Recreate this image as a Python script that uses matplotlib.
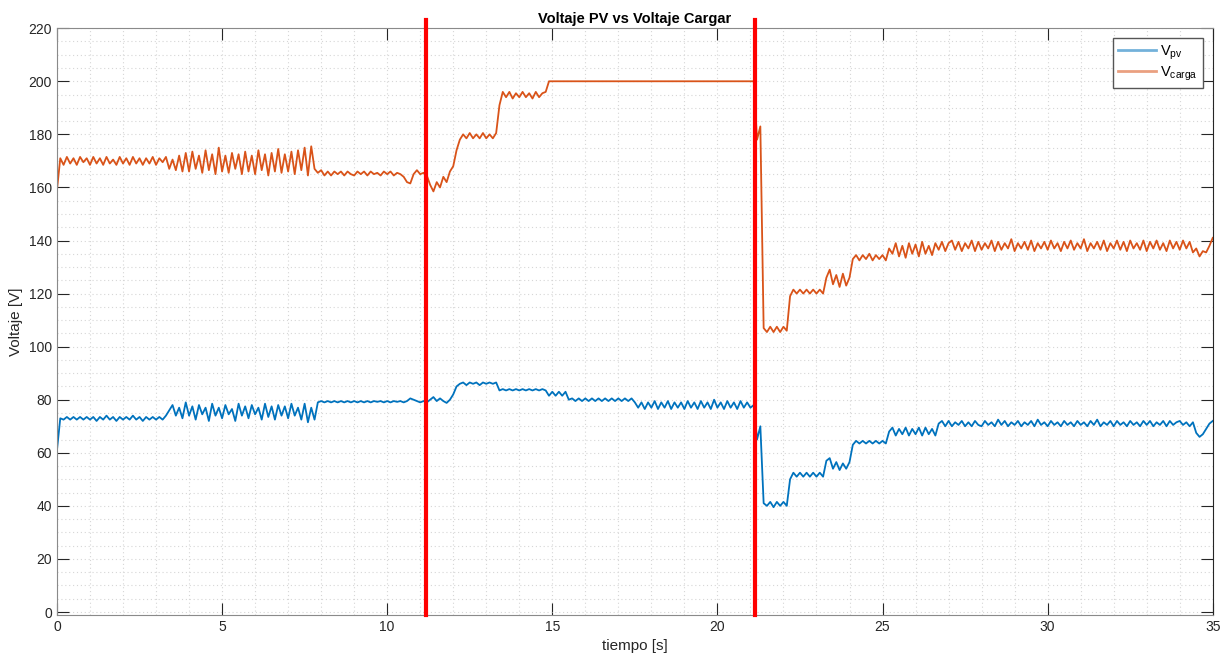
import numpy as np
import matplotlib.pyplot as plt
from matplotlib.ticker import MultipleLocator

t = np.round(np.arange(0, 35.05, 0.1), 1)

v_pv = [
    61, 73, 72.5, 73.5, 72.5, 73.5, 72.5, 73.5, 72.5, 73.5,
    72.5, 73.5, 72, 73.5, 72.5, 74, 72.5, 73.5, 72, 73.5,
    72.5, 73.5, 72.5, 74, 72.5, 73.5, 72, 73.5, 72.5, 73.5,
    72.5, 73.5, 72.5, 74, 76, 78, 74, 77, 73, 79,
    74, 77.5, 72.5, 78, 74.5, 77, 72, 78.5, 74, 77,
    73, 78, 74.5, 76.5, 72, 78.5, 74, 77.5, 73, 78,
    74.5, 77, 72.5, 78.5, 73.5, 77.5, 72.5, 78, 74, 77.5,
    73, 78.5, 74, 77, 72.5, 78.5, 71.5, 77, 72.5, 79,
    79.5, 79, 79.5, 79, 79.5, 79, 79.5, 79, 79.5, 79,
    79.5, 79, 79.5, 79, 79.5, 79, 79.5, 79.2, 79.5, 79,
    79.5, 79, 79.5, 79.2, 79.5, 79, 79.5, 80.5, 80, 79.5,
    79, 79.5, 79, 80, 81, 79.5, 80.5, 79.5, 78.8, 80,
    82, 85, 86, 86.5, 85.5, 86.5, 86, 86.5, 85.5, 86.5,
    86, 86.5, 86, 86.5, 83.5, 84, 83.5, 84, 83.5, 84,
    83.5, 84, 83.5, 84, 83.5, 84, 83.5, 84, 83.5, 81.5,
    83, 81.5, 83, 81.5, 83, 80, 80.5, 79.5, 80.5, 79.5,
    80.5, 79.5, 80.5, 79.5, 80.5, 79.5, 80.5, 79.5, 80.5, 79.5,
    80.5, 79.5, 80.5, 79.5, 80.5, 79, 77, 79, 76.5, 79,
    77, 79.5, 76.5, 79, 77, 79.5, 76.5, 79, 77, 79,
    76.5, 79.5, 77, 79, 76.5, 79.5, 77, 79, 76.5, 80,
    77, 79, 76.5, 79.5, 77, 79, 76.5, 79.5, 77, 79,
    77, 78, 65, 70, 41, 40, 41.5, 39.5, 41.5, 40,
    41.5, 40, 50, 52.5, 51, 52.5, 51, 52.5, 51, 52.5,
    51, 52.5, 51, 57, 58, 54, 56.5, 53.5, 56, 54,
    56.5, 63, 64.5, 63.5, 64.5, 63.5, 64.5, 63.5, 64.5, 63.5,
    64.5, 63.5, 68, 69.5, 66.5, 69, 67, 69.5, 66.5, 69,
    67, 69.5, 66.5, 69.5, 67, 69, 66.5, 71, 72, 70,
    72, 70, 71.5, 70.5, 72, 70, 71.5, 70, 72, 70.5,
    70, 72, 70.5, 71.5, 70, 72.5, 70.5, 72, 70, 71.5,
    70.5, 72, 70, 71.5, 70.5, 72, 70, 72.5, 70.5, 71.5,
    70, 72, 70.5, 71.5, 70, 72, 70.5, 71.5, 70, 72,
    70.5, 71.5, 70, 72, 70.5, 72.5, 70, 71.5, 70.5, 72,
    70, 72, 70.5, 71.5, 70, 72, 70.5, 71.5, 70, 72,
    70.5, 72, 70, 71.5, 70.5, 72, 70, 72, 70.5, 71.5,
    72, 70.5, 71.5, 70, 71.5, 67.5, 66, 67, 69, 71,
    72,
]

v_carga = [
    159, 171, 168.5, 171.5, 169, 171, 168.5, 171.5, 169.5, 171,
    168.5, 171.5, 169, 171, 168.5, 171.5, 169, 170.5, 168.5, 171.5,
    169, 171, 168.5, 171.5, 169, 171, 168.5, 171, 169, 171.5,
    168.5, 171, 169.5, 171.5, 167, 170.5, 166.5, 172, 166, 173,
    166, 173.5, 167, 172, 165.5, 174, 166.5, 172.5, 165, 175,
    166, 172, 165.5, 173, 167, 172.5, 165, 173.5, 166, 172,
    165, 174, 166.5, 172.5, 164.5, 173, 166, 174.5, 165.5, 172.5,
    166, 173.5, 165, 174, 166.5, 175, 164.5, 175.5, 167, 165.5,
    166.5, 164.5, 166, 164.5, 166, 165, 166, 164.5, 166, 165,
    164.5, 166, 165, 166, 164.5, 166, 165, 165.5, 164.5, 166,
    165, 166, 164.5, 165.5, 165, 164, 162, 161.5, 165, 166.5,
    165, 165.5, 164.5, 161, 158.5, 162, 160, 164, 162, 166,
    168, 174, 178, 180, 178.5, 180.5, 178.5, 180, 178.5, 180.5,
    178.5, 180, 178.5, 180.5, 191, 196, 194, 196, 193.5, 195.5,
    194, 196, 194, 195.5, 193.5, 196, 194, 195.5, 196, 200,
    200, 200, 200, 200, 200, 200, 200, 200, 200, 200,
    200, 200, 200, 200, 200, 200, 200, 200, 200, 200,
    200, 200, 200, 200, 200, 200, 200, 200, 200, 200,
    200, 200, 200, 200, 200, 200, 200, 200, 200, 200,
    200, 200, 200, 200, 200, 200, 200, 200, 200, 200,
    200, 200, 200, 200, 200, 200, 200, 200, 200, 200,
    200, 200, 178, 183, 107, 105.5, 107.5, 105.5, 107.5, 105.5,
    107.5, 106, 119, 121.5, 120, 121.5, 120, 121.5, 120, 121.5,
    120, 121.5, 120, 126, 129, 123.5, 127, 122.5, 127.5, 123,
    126, 133, 134.5, 132.5, 134.5, 133, 135, 132.5, 134.5, 133,
    134.5, 132.5, 137, 135, 139, 134, 138, 133.5, 139, 135,
    138.5, 134, 139.5, 135, 138, 134.5, 139, 136.5, 139.5, 136,
    139, 140, 136.5, 139.5, 136, 139, 137, 140, 136, 139.5,
    136.5, 139, 137, 140, 136, 139.5, 136.5, 139, 137, 140.5,
    136, 139, 137, 139.5, 136.5, 140, 136, 139, 137, 139.5,
    136.5, 140, 137, 139, 136, 139.5, 137, 140, 136.5, 139,
    137, 140.5, 136, 139, 137, 139.5, 136.5, 140, 136, 139,
    137, 140, 136.5, 139.5, 136, 140, 137, 139, 136.5, 140,
    136, 139.5, 137, 140, 136.5, 139, 136, 140, 137, 139.5,
    136.5, 140, 137, 139.5, 135.5, 137, 134, 136, 135.5, 138,
    141,
]

event_times = [11.17, 21.13]

plt.rcParams['font.family'] = ['Liberation Sans', 'DejaVu Sans']

fig = plt.figure(figsize=(12.25, 6.56), dpi=100)
ax = fig.add_axes([0.0465, 0.063, 0.9435, 0.894])

ax.plot(t, v_pv, color='#0072BD', lw=1.3, label=r'V$_{\mathregular{pv}}$')
ax.plot(t, v_carga, color='#D95319', lw=1.3, label=r'V$_{\mathregular{carga}}$')

# vertical event markers, sticking out slightly above the axes
for x in event_times:
    ax.axvline(x, ymin=0, ymax=1.014, color='#FF0000', lw=3, clip_on=False, zorder=5)

ax.set_xlim(0, 35)
ax.set_ylim(-1, 220)
ax.xaxis.set_major_locator(MultipleLocator(5))
ax.xaxis.set_minor_locator(MultipleLocator(1))
ax.yaxis.set_major_locator(MultipleLocator(20))
ax.yaxis.set_minor_locator(MultipleLocator(5))

ax.grid(True, which='both', color='#d6d6d6', linestyle=(0, (1, 2.5)), linewidth=0.8)
ax.set_axisbelow(True)

ax.tick_params(which='major', direction='in', length=8.3, width=0.8, color='#262626',
               labelcolor='#262626', labelsize=10, top=True, right=True)
ax.tick_params(which='minor', length=0, top=True, right=True)
for side in ['left', 'bottom', 'top']:
    ax.spines[side].set_color('#8a8a8a')
ax.spines['right'].set_color('#262626')

ax.set_title('Voltaje PV vs Voltaje Cargar', fontsize=10.5, fontweight='bold', pad=4)
ax.set_xlabel('tiempo [s]', fontsize=11, color='#262626')
ax.set_ylabel('Voltaje [V]', fontsize=11, color='#262626')

leg = ax.legend(loc='upper right', fontsize=10.5, fancybox=False, framealpha=1,
                edgecolor='#555555', handlelength=2.6, handletextpad=0.3,
                labelspacing=0.15, borderpad=0.35, borderaxespad=0.7)
leg.get_frame().set_linewidth(1.0)
for line in leg.get_lines():
    line.set_alpha(0.55)
    line.set_linewidth(2)

plt.savefig('out.png', dpi=100)
